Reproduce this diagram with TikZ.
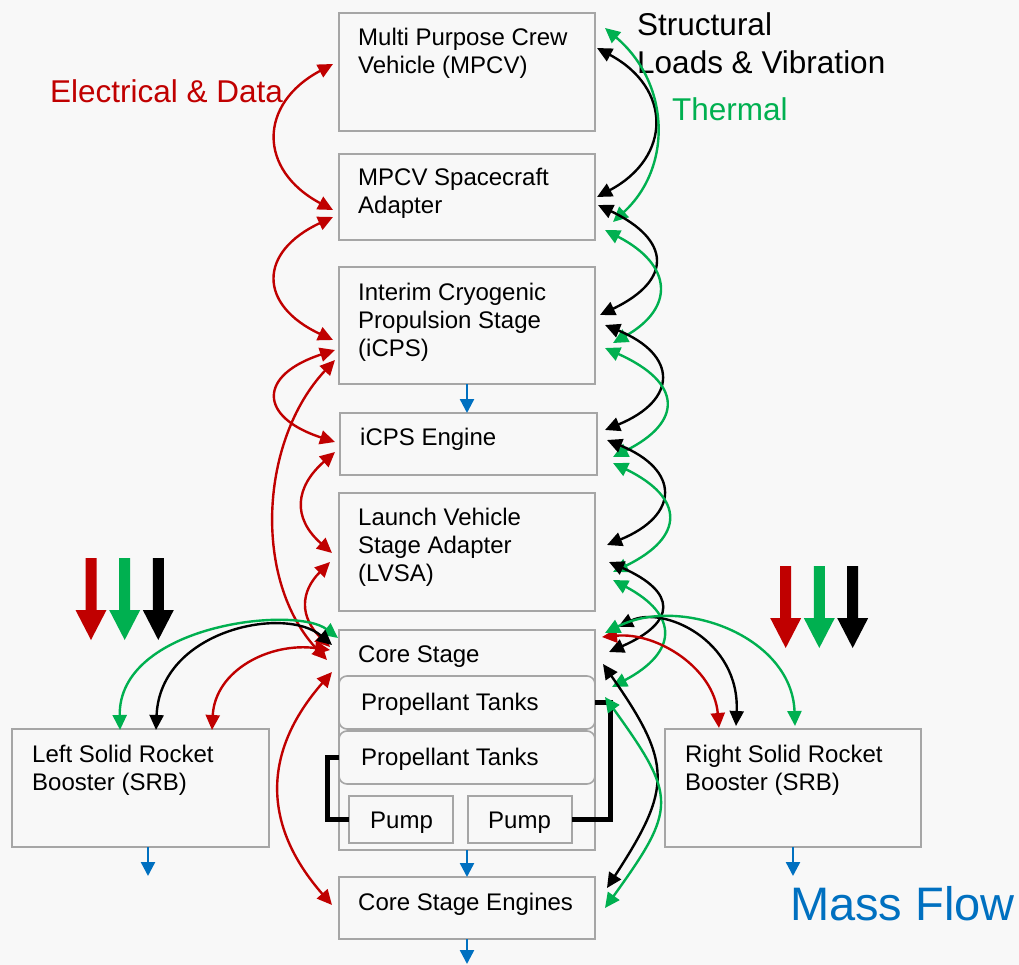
\documentclass[tikz,border=0pt]{standalone}
\usepackage{fontspec}
\setmainfont{Liberation Sans}
\usetikzlibrary{arrows.meta,calc}
\definecolor{cred}{HTML}{C00000}
\definecolor{cgreen}{HTML}{00B050}
\definecolor{cblue}{HTML}{0070C0}
\definecolor{bgc}{HTML}{F8F8F8}
\definecolor{boxline}{HTML}{A6A6A6}
\begin{document}
\begin{tikzpicture}[x=1pt,y=-1pt,
  >={Triangle[width=14pt,length=15pt]},
  box/.style n args={2}{draw=boxline, fill=bgc, line width=1.6pt, anchor=north west, inner sep=0pt, outer sep=0pt, minimum width=#1pt, minimum height=#2pt},
  tank/.style={box={256}{53}, rounded corners=8pt},
  lbl/.style={anchor=base west, align=left, inner sep=0pt, font=\fontsize{24pt}{28pt}\selectfont},
  big/.style={anchor=base west, align=left, inner sep=0pt, font=\fontsize{31.5pt}{38pt}\selectfont},
  ared/.style={draw=cred, line width=2.4pt, <->},
  ablk/.style={draw=black, line width=2.4pt, <->},
  agrn/.style={draw=cgreen, line width=2.4pt, <->},
  mflow/.style={draw=cblue, line width=2.4pt, -{Triangle[width=14pt,length=14pt]}},
  pipe/.style={draw=black, line width=5pt, line join=miter},
  bigarr/.pic={\fill (-5.5,0) -- (5.5,0) -- (5.5,52) -- (15.5,52) -- (0,82) -- (-15.5,52) -- (-5.5,52) -- cycle;}
]
\path[use as bounding box, fill=bgc] (0,0) rectangle (1019,965);

% boxes
\node[box={256}{118}] (mpcv) at (339,13) {};
\node[box={256}{86}] (adapter) at (339,154) {};
\node[box={256}{117}] (icps) at (339,267) {};
\node[box={257}{62}] (icpseng) at (340,413) {};
\node[box={256}{118}] (lvsa) at (339,493) {};
\node[box={256}{220}] (core) at (339,630) {};
\node[tank] (tank1) at (339,676) {};
\node[tank] (tank2) at (339,731) {};
\node[box={104}{47}] (pump1) at (349,796) {};
\node[box={104}{47}] (pump2) at (468,796) {};
\node[box={256}{62}] (engines) at (339,877) {};
\node[box={257}{118}] (lsrb) at (12,729) {};
\node[box={256}{118}] (rsrb) at (665,729) {};

% box texts (anchor = baseline of last line)
\node[lbl] (t1) at (358,74) {Multi Purpose Crew\\Vehicle (MPCV)};
\node[lbl] (t2) at (358,214) {MPCV Spacecraft\\Adapter};
\node[lbl] (t3) at (358,356) {Interim Cryogenic\\Propulsion Stage\\(iCPS)};
\node[lbl] (t4) at (360,445) {iCPS Engine};
\node[lbl] (t5) at (358,581) {Launch Vehicle\\Stage Adapter\\(LVSA)};
\node[lbl] (t6) at (358,662) {Core Stage};
\node[lbl] (t7) at (361,710) {Propellant Tanks};
\node[lbl] (t8) at (361,765) {Propellant Tanks};
\node[lbl] (t9) at (370,828) {Pump};
\node[lbl] (t10) at (488,828) {Pump};
\node[lbl] (t11) at (358,910) {Core Stage Engines};
\node[lbl] (t12) at (32,790) {Left Solid Rocket\\Booster (SRB)};
\node[lbl] (t13) at (685,790) {Right Solid Rocket\\Booster (SRB)};

% legend texts
\node[big, text=cred] (ledata) at (50,103) {Electrical \& Data};
\node[big] (lstruct) at (637,74) {Structural\\Loads \& Vibration};
\node[big, text=cgreen] (ltherm) at (672,121) {Thermal};
\node[anchor=base west, inner sep=0pt, text=cblue, font=\fontsize{47pt}{56pt}\selectfont] (lmass) at (790,920) {Mass Flow};

% big legend arrows
\pic[color=cred] at (91,558) {bigarr};
\pic[color=cgreen] at (124.7,558) {bigarr};
\pic[color=black] at (158.3,558) {bigarr};
\pic[color=cred] at (785.7,566) {bigarr};
\pic[color=cgreen] at (819.3,566) {bigarr};
\pic[color=black] at (852.7,566) {bigarr};

% pipes
\draw[pipe] (tank1.east) -| ($(pump2.east)+(38,0)$) -- (pump2.east);
\draw[pipe] (tank2.west) -| ($(pump1.west)+(-22,0)$) -- (pump1.west);

% mass flow
\coordinate (mf3) at (467,964);
\coordinate (mf4a) at ($(lsrb.south)+(7.5,0)$);
\coordinate (mf4b) at ($(lsrb.south)+(7.5,29)$);
\coordinate (mf5) at ($(rsrb.south)+(0,29)$);
\draw[mflow] (icps.south) -- (icps.south |- icpseng.north);
\draw[mflow] (core.south) -- (engines.north);
\draw[mflow] (engines.south) -- (mf3);
\draw[mflow] (mf4a) -- (mf4b);
\draw[mflow] (rsrb.south) -- (mf5);

% red arcs (left)
\draw[ared] ([shift={(-6,-8)}]mpcv.west) .. controls +(-75,40) and +(-75,-40) .. ([shift={(-6,13)}]adapter.west);
\draw[ared] ([shift={(-6,20)}]adapter.west) .. controls +(-75,35) and +(-75,-35) .. ([shift={(-6,14.5)}]icps.west);
\draw[ared] ([shift={(-4,24.5)}]icps.west) .. controls +(-77,25) and +(-77,-25) .. ([shift={(-5,-2)}]icpseng.west);
\draw[ared] ([shift={(-4,34.5)}]icps.west) .. controls +(-75,80) and +(-75,-80) .. ([shift={(-12,30)}]core.north west);
\draw[ared] ([shift={(-5,8)}]icpseng.west) .. controls +(-40,35) and +(-40,-35) .. ([shift={(-7,1)}]lvsa.west);
\draw[ared] ([shift={(-9,10)}]lvsa.west) .. controls +(-30,30) and +(-30,-30) .. ([shift={(-9,17)}]core.north west);
\draw[ared] ([shift={(-7,42)}]core.north west) .. controls +(-70,80) and +(-70,-80) .. ([shift={(-7,-3)}]engines.west);

% left SRB arcs
\draw[agrn] ([shift={(-1,8)}]core.north west) .. controls +(-43,-33) and +(-2,-105) .. ([shift={(108,1)}]lsrb.north west);
\draw[ablk] ([shift={(-7,15)}]core.north west) .. controls +(-47,-40) and +(4,-100) .. ([shift={(144,1)}]lsrb.north west);
\draw[ared] ([shift={(-9,20)}]core.north west) .. controls +(-60,-8) and +(3,-60) .. ([shift={(200,1)}]lsrb.north west);

% right arcs black / green
\draw[ablk] ([shift={(2,-24)}]mpcv.east) .. controls +(75,40) and +(75,-40) .. ([shift={(2,0)}]adapter.east);
\draw[agrn] ([shift={(10,-44)}]mpcv.east) .. controls +(65,55) and +(60,-55) .. ([shift={(18,25)}]adapter.east);
\draw[ablk] ([shift={(3,8)}]adapter.east) .. controls +(73,35) and +(73,-35) .. ([shift={(5,-10.5)}]icps.east);
\draw[agrn] ([shift={(10,33)}]adapter.east) .. controls +(68,35) and +(62,-35) .. ([shift={(18,17.5)}]icps.east);
\draw[ablk] ([shift={(10,-0.5)}]icps.east) .. controls +(73,30) and +(73,-30) .. ([shift={(8,-14)}]icpseng.east);
\draw[agrn] ([shift={(10,22.5)}]icps.east) .. controls +(78,35) and +(70,-35) .. ([shift={(16,13)}]icpseng.east);
\draw[ablk] ([shift={(10,-4)}]icpseng.east) .. controls +(73,30) and +(73,-30) .. ([shift={(12,-7)}]lvsa.east);
\draw[agrn] ([shift={(16,19)}]icpseng.east) .. controls +(72,35) and +(72,-35) .. ([shift={(18,20)}]lvsa.east);
\draw[ablk] ([shift={(14,10)}]lvsa.east) .. controls +(68,30) and +(68,-30) .. ([shift={(14,22)}]core.north east);
\draw[agrn] ([shift={(18,28)}]lvsa.east) .. controls +(66,35) and +(66,-35) .. ([shift={(17,57)}]core.north east);
\draw[ablk] ([shift={(8,34)}]core.north east) .. controls +(70,100) and +(65,-100) .. ([shift={(12,-20)}]engines.east);
\draw[agrn] ([shift={(10,67)}]core.north east) .. controls +(72,100) and +(72,-100) .. ([shift={(10,0)}]engines.east);

% right SRB arcs
\draw[ared] ([shift={(7,7)}]core.north east) .. controls +(55,-5) and +(-5,-60) .. ([shift={(54,-1)}]rsrb.north west);
\draw[ablk] ([shift={(23,-3)}]core.north east) .. controls +(45,-22) and +(4,-86) .. ([shift={(71,-3)}]rsrb.north west);
\draw[agrn] ([shift={(10,3)}]core.north east) .. controls +(75,-38) and +(-3,-90) .. ([shift={(130,-3)}]rsrb.north west);
\end{tikzpicture}
\end{document}
